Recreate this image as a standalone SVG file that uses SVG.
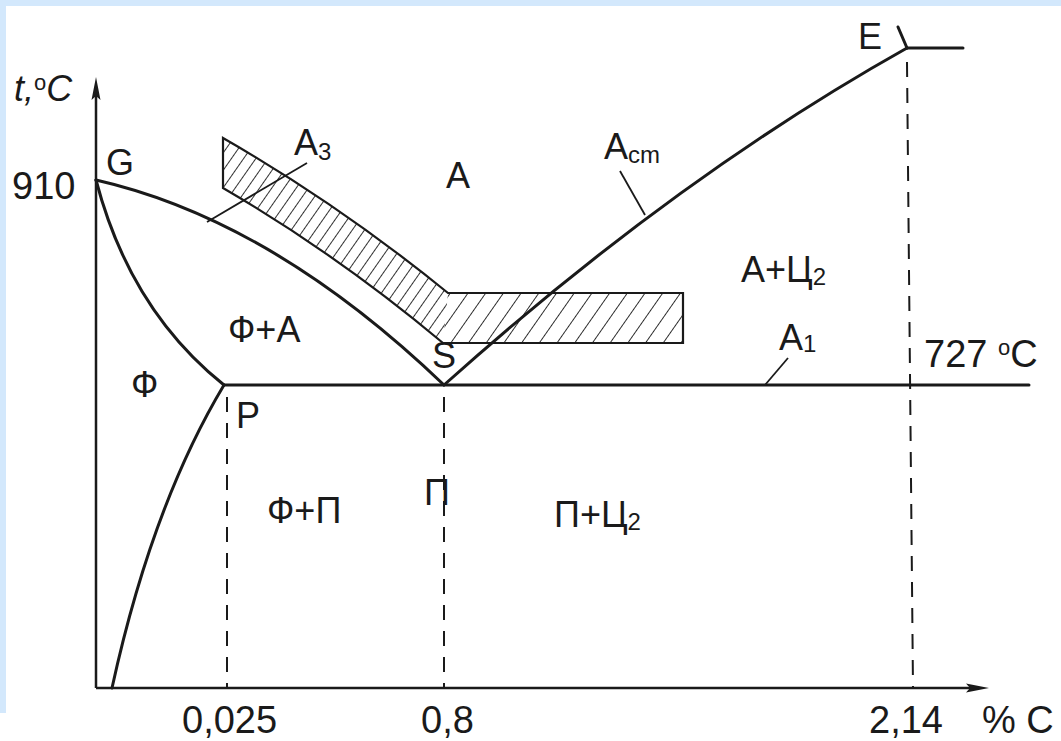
<svg xmlns="http://www.w3.org/2000/svg" width="1061" height="741" viewBox="0 0 1061 741">
<style>
.lbl{font-family:"Liberation Sans",Arial,sans-serif;font-size:36px;fill:#1a1a1a}
.num{font-family:"Liberation Sans",Arial,sans-serif;font-size:38px;fill:#1a1a1a}
.sub{font-size:24px}
.ln{fill:none;stroke:#1a1a1a;stroke-width:3;stroke-linecap:round}
.ax{fill:none;stroke:#1a1a1a;stroke-width:2.5}
.dash{fill:none;stroke:#1a1a1a;stroke-width:2;stroke-dasharray:15 11}
.lead{fill:none;stroke:#1a1a1a;stroke-width:1.8}
.hl{stroke:#1a1a1a;stroke-width:1.8}
</style>
<defs>
<pattern id="hatchA" patternUnits="userSpaceOnUse" width="10" height="40" patternTransform="rotate(35)">
<line class="hl" x1="0" y1="0" x2="0" y2="40"/>
</pattern>
<pattern id="hatchB" patternUnits="userSpaceOnUse" width="14.5" height="40" patternTransform="rotate(35)">
<line class="hl" x1="0" y1="0" x2="0" y2="40"/>
</pattern>
</defs>
<rect width="1061" height="741" fill="#ffffff"/>
<rect x="0" y="0" width="1061" height="6" fill="#d3e8fc"/>
<rect x="0" y="0" width="6" height="713" fill="#d3e8fc"/>

<g id="hatch-band">
<path d="M223,138 Q340,205 448,293 L443,343 Q338,255 223,188 Z" fill="url(#hatchA)"/>
<path d="M448,293 L683,293 L683,343 L443,343 Z" fill="url(#hatchB)"/>
<path d="M223,138 Q340,205 448,293 L683,293 L683,343 L443,343 Q338,255 223,188 Z" fill="none" stroke="#1a1a1a" stroke-width="2.2"/>
</g>

<g id="axes">
<line class="ax" x1="96" y1="688" x2="96" y2="92"/>
<polygon points="96,77 100.5,100 96,96 91.5,100" fill="#1a1a1a"/>
<line class="ax" x1="96" y1="688" x2="972" y2="688"/>
<polygon points="989,688 966,692.5 970,688 966,683.5" fill="#1a1a1a"/>
</g>

<g id="connectors">
<path id="GS" class="ln" d="M96,180 Q272,220 444,385"/>
<path id="GP" class="ln" d="M96,180 Q130,310 224,385"/>
<path id="P-bottom" class="ln" d="M224,385 Q152,505 112,688"/>
<line id="A1-line" class="ln" x1="224" y1="385" x2="1029" y2="385"/>
<path id="SE" class="ln" d="M444,385 Q675,178 907,48"/>
<line id="E-right" class="ln" x1="907" y1="48" x2="963" y2="48"/>
<line id="E-tick" class="ln" x1="898" y1="27" x2="907" y2="48"/>
<line class="dash" x1="227" y1="397" x2="227" y2="688"/>
<line class="dash" x1="444" y1="397" x2="444" y2="688"/>
<line class="dash" x1="907" y1="62" x2="913" y2="688"/>
<line class="lead" x1="207" y1="222" x2="307" y2="163"/>
<line class="lead" x1="645" y1="215" x2="620" y2="171"/>
<line class="lead" x1="765" y1="385" x2="788" y2="358"/>
</g>

<g id="labels">
<text class="lbl" x="14" y="101" font-style="italic">t,<tspan font-size="22" dy="-11" font-style="normal">o</tspan><tspan dy="11">C</tspan></text>
<text class="num" x="12" y="199">910</text>
<text class="lbl" x="106" y="175">G</text>
<text class="lbl" x="294" y="155">А<tspan class="sub" dy="5">3</tspan></text>
<text class="lbl" x="446" y="188">А</text>
<text class="lbl" x="604" y="159">А<tspan class="sub" dy="4">cm</tspan></text>
<text class="lbl" x="858" y="49">E</text>
<text class="lbl" x="741" y="282">А+Ц<tspan class="sub" dy="3">2</tspan></text>
<text class="lbl" x="228" y="342">Ф+А</text>
<text class="lbl" x="432" y="368">S</text>
<text class="lbl" x="779" y="350">А<tspan class="sub" dy="2">1</tspan></text>
<text class="num" x="924" y="367">727 <tspan font-size="22" dy="-12">o</tspan><tspan dy="12">C</tspan></text>
<text class="lbl" x="131" y="397" font-size="38">Ф</text>
<text class="lbl" x="236" y="428">P</text>
<text class="lbl" x="267" y="523">Ф+П</text>
<text class="lbl" x="424" y="505">П</text>
<text class="lbl" x="554" y="527">П+Ц<tspan class="sub" dy="3">2</tspan></text>
<text class="num" x="182" y="733">0,025</text>
<text class="num" x="421" y="733">0,8</text>
<text class="num" x="869" y="733">2,14</text>
<text class="num" x="982" y="733">% C</text>
</g>
</svg>
